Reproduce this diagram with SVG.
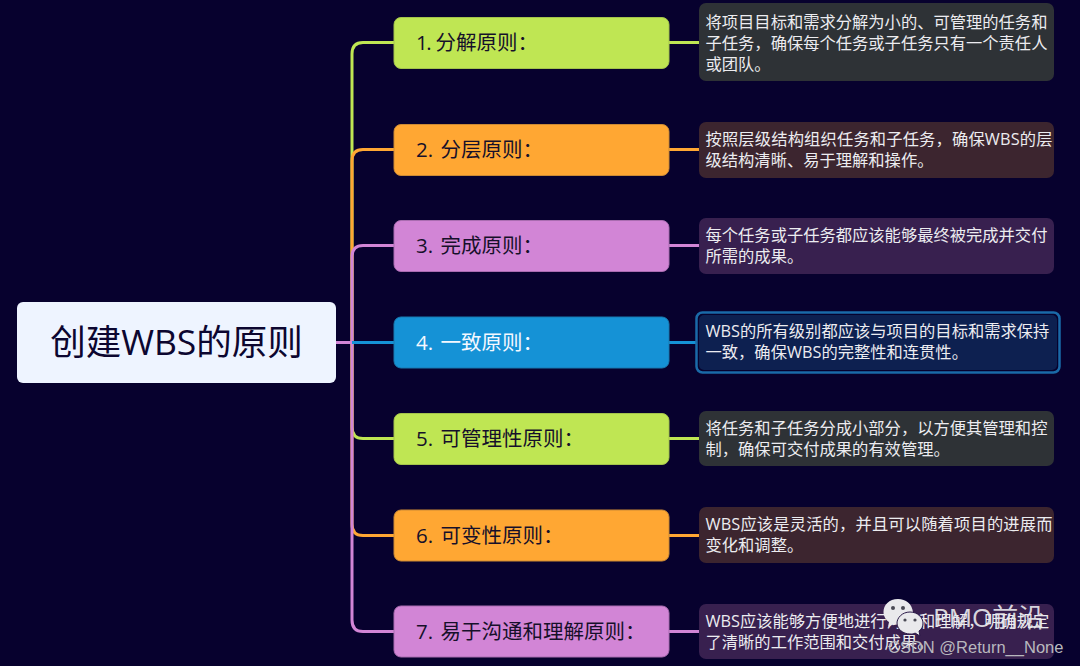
<svg xmlns="http://www.w3.org/2000/svg" width="1080" height="666" viewBox="0 0 1080 666">
<style>
text{font-family:"Open Sans","Noto Sans CJK SC","Noto Sans",sans-serif}
.c{fill:none;stroke-width:3}
.g{stroke:#bfe653}.o{stroke:#ffa733}.p{stroke:#d285d6}.b{stroke:#1592d6}
.t{font-size:20.5px;fill:#16102a}
.d{font-size:16.3px;fill:#ececf0}
.w{letter-spacing:.15px}
.wm{fill:#e9e9ec}
.eye{fill:#4a4a55}
</style>
<rect width="1080" height="666" fill="#07012e"/>
<g id="connectors">
<path class="c g" d="M336 342.500H352V54Q352 42.500 363 42.500H394"/>
<path class="c o" d="M336 342.500H352V161Q352 149.500 363 149.500H394"/>
<path class="c p" d="M336 342.500H352V257Q352 245.500 363 245.500H394"/>
<path class="c g" d="M336 342.500H352V427Q352 438.500 363 438.500H394"/>
<path class="c o" d="M336 342.500H352V524Q352 535.500 363 535.500H394"/>
<path class="c p" d="M336 342.500H352V620Q352 631.500 363 631.500H394"/>
<path class="c b" d="M352 342.500H394"/>
<path class="c g" d="M669 42.500H699"/>
<path class="c o" d="M669 149.500H699"/>
<path class="c p" d="M669 245.500H699"/>
<path class="c b" d="M669 342.500H696"/>
<path class="c g" d="M669 438.500H699"/>
<path class="c o" d="M669 535.500H699"/>
<path class="c p" d="M669 631.500H699"/>
</g>
<g id="root">
<rect x="17" y="302" width="319" height="81" rx="6" fill="#eef4ff"/>
<text x="176.500" y="355" font-size="35.500" fill="#0c0630" text-anchor="middle">创建WBS的原则</text>
</g>
<g id="n1">
<rect x="394" y="17.500" width="275" height="51" rx="7" fill="#bfe653" stroke="#a3c44c"/>
<text class="t" x="416" y="50"><tspan letter-spacing="-1.500">1.</tspan> 分解原则：</text>
</g>
<g id="d1">
<rect x="699" y="3" width="355" height="78" rx="7" fill="#2e3236"/>
<text class="d" x="705.500" y="28">将项目目标和需求分解为小的、可管理的任务和</text>
<text class="d" x="705.500" y="49">子任务，确保每个任务或子任务只有一个责任人</text>
<text class="d" x="705.500" y="70">或团队。</text>
</g>
<g id="n2">
<rect x="394" y="124.500" width="275" height="51" rx="7" fill="#ffa733" stroke="#cc8a35"/>
<text class="t" x="416" y="157">2.<tspan dx="2"> 分层原则：</tspan></text>
</g>
<g id="d2">
<rect x="699" y="122" width="355" height="56" rx="7" fill="#3c252f"/>
<text class="d w" x="705.500" y="145">按照层级结构组织任务和子任务，确保WBS的层</text>
<text class="d" x="705.500" y="166">级结构清晰、易于理解和操作。</text>
</g>
<g id="n3">
<rect x="394" y="220.500" width="275" height="51" rx="7" fill="#d285d6" stroke="#a96cb0"/>
<text class="t" x="416" y="253">3.<tspan dx="2"> 完成原则：</tspan></text>
</g>
<g id="d3">
<rect x="699" y="218" width="355" height="56" rx="7" fill="#38204f"/>
<text class="d" x="705.500" y="241">每个任务或子任务都应该能够最终被完成并交付</text>
<text class="d" x="705.500" y="262">所需的成果。</text>
</g>
<g id="n4">
<rect x="394" y="317" width="275" height="51" rx="7" fill="#1592d6" stroke="#1a7ab0"/>
<text class="t" x="416" y="349.500" style="fill:#f4f8ff">4.<tspan dx="2"> 一致原则：</tspan></text>
</g>
<g id="d4">
<rect x="696.500" y="312.500" width="363" height="60" rx="6" fill="#06022e" stroke="#1a6aa8" stroke-width="2.500"/>
<rect x="699" y="315" width="358" height="55" rx="5" fill="#0d2050"/>
<text class="d" x="705.500" y="337">WBS的所有级别都应该与项目的目标和需求保持</text>
<text class="d" x="705.500" y="358">一致，确保WBS的完整性和连贯性。</text>
</g>
<g id="n5">
<rect x="394" y="413.500" width="275" height="51" rx="7" fill="#bfe653" stroke="#a3c44c"/>
<text class="t" x="416" y="446">5.<tspan dx="2"> 可管理性原则：</tspan></text>
</g>
<g id="d5">
<rect x="699" y="411" width="355" height="55" rx="7" fill="#2e3236"/>
<text class="d" x="705.500" y="434">将任务和子任务分成小部分，以方便其管理和控</text>
<text class="d" x="705.500" y="455">制，确保可交付成果的有效管理。</text>
</g>
<g id="n6">
<rect x="394" y="510" width="275" height="51" rx="7" fill="#ffa733" stroke="#cc8a35"/>
<text class="t" x="416" y="542.500">6.<tspan dx="2"> 可变性原则：</tspan></text>
</g>
<g id="d6">
<rect x="699" y="507" width="355" height="56" rx="7" fill="#3c252f"/>
<text class="d w" x="705.500" y="530">WBS应该是灵活的，并且可以随着项目的进展而</text>
<text class="d" x="705.500" y="551">变化和调整。</text>
</g>
<g id="n7">
<rect x="394" y="606" width="275" height="51" rx="7" fill="#d285d6" stroke="#a96cb0"/>
<text class="t" x="416" y="639">7.<tspan dx="2"> 易于沟通和理解原则：</tspan></text>
</g>
<g id="d7">
<rect x="699" y="604" width="355" height="55" rx="7" fill="#38204f"/>
<text class="d" x="705.500" y="627">WBS应该能够方便地进行沟通和理解，明确规定</text>
<text class="d" x="705.500" y="648">了清晰的工作范围和交付成果。</text>
</g>
<g id="watermark">
<path class="wm" d="M898 599C889 599 883.500 605 883.500 612C883.500 616.500 886 620 889 622L888 627L894 624L905 624L913 612C912 604 906 599 898 599Z"/>
<circle class="eye" cx="893" cy="608" r="2"/>
<circle class="eye" cx="903" cy="608" r="2"/>
<path class="wm" stroke="#2a1a48" d="M910 612C902 612 897 618 897 623C897 629 903 634 910 634C912 634 914 634 915 633L920 636L919 631C922 629 923 626 923 623C923 618 918 612 910 612Z"/>
<circle class="eye" cx="905" cy="620" r="1.600"/>
<circle class="eye" cx="915" cy="620" r="1.600"/>
<text x="933" y="627" font-size="26" fill="#e8e8ec" fill-opacity=".92">PMO前沿</text>
<text x="888" y="653" font-size="16.500" fill="#b8b8be" style="font-family:'Liberation Sans',sans-serif">CSDN @Return__None</text>
</g>
</svg>
